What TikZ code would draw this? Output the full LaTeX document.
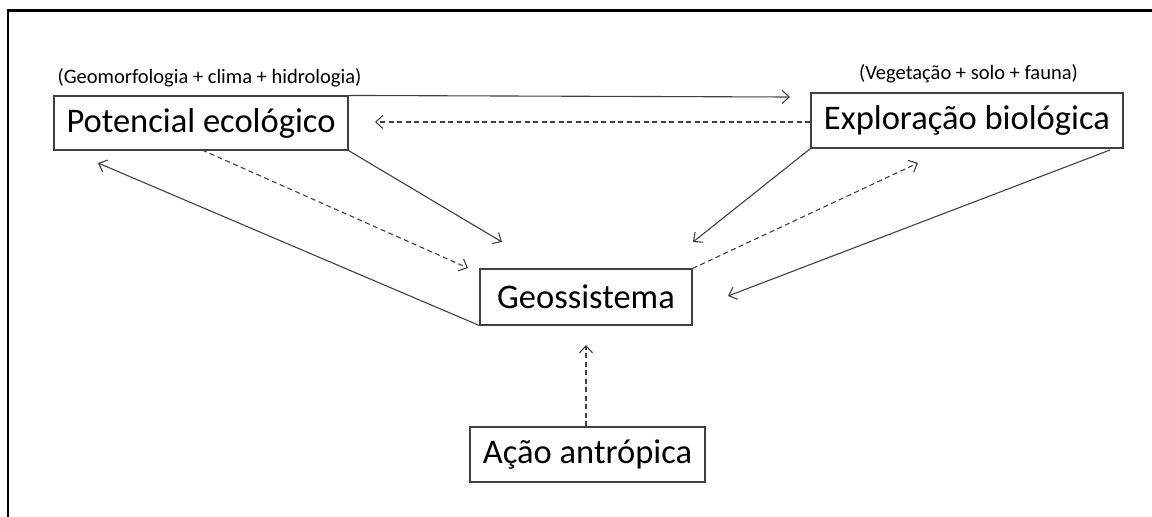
\documentclass[tikz,border=0pt]{standalone}
\usepackage{fontspec}
\setmainfont{Carlito}
\usetikzlibrary{arrows.meta}
\begin{document}
\begin{tikzpicture}[x=1pt,y=-1pt,
  box/.style={draw=black!75,line width=1.1pt,rectangle,inner sep=0pt,font=\fontsize{34.5}{40}\selectfont},
  lbl/.style={inner sep=0pt,font=\fontsize{20.5}{24}\selectfont},
  conn/.style={draw=black!75,line width=1.1pt,-{Straight Barb[length=7pt,width=13pt,line width=1.1pt]}},
  dconn/.style={conn,dash pattern=on 5pt off 3.5pt}]
\useasboundingbox (0,0) rectangle (1152,517);
\draw[line width=2.6pt] (8,517) -- (8,10.5) -- (1152,10.5);
\node[box,minimum width=294pt,minimum height=54pt] (pot) at (201,123) {Potencial ecológico};
\node[box,minimum width=312pt,minimum height=55pt] (exp) at (967,120.5) {Exploração biológica};
\node[box,minimum width=212pt,minimum height=56pt] (geo) at (586,297) {Geossistema};
\node[box,minimum width=235pt,minimum height=55pt] (acao) at (587.5,454.5) {Ação antrópica};
\node[lbl] (lpot) at (209.5,78) {(Geomorfologia + clima + hidrologia)};
\node[lbl] (lexp) at (968.5,74) {(Vegetação + solo + fauna)};
\coordinate (t1) at (790,97);
\coordinate (t2) at (375,122);
\coordinate (t3) at (502,242);
\coordinate (s4) at (202,150);
\coordinate (t4) at (468,268);
\coordinate (t5) at (98,163);
\coordinate (t6) at (693,242);
\coordinate (t7) at (918,163);
\coordinate (s8) at (1110,150);
\coordinate (t8) at (728,296);
\coordinate (t9) at (586,345);
\draw[conn] (pot.north east) -- (t1);
\draw[dconn] (exp.west |- t2) -- (t2);
\draw[conn] (pot.south east) -- (t3);
\draw[dconn] (s4) -- (t4);
\draw[conn] (geo.south west) -- (t5);
\draw[conn] (exp.south west) -- (t6);
\draw[dconn] (geo.north east) -- (t7);
\draw[conn] (s8) -- (t8);
\draw[dconn] (acao.north -| t9) -- (t9);
\end{tikzpicture}
\end{document}
